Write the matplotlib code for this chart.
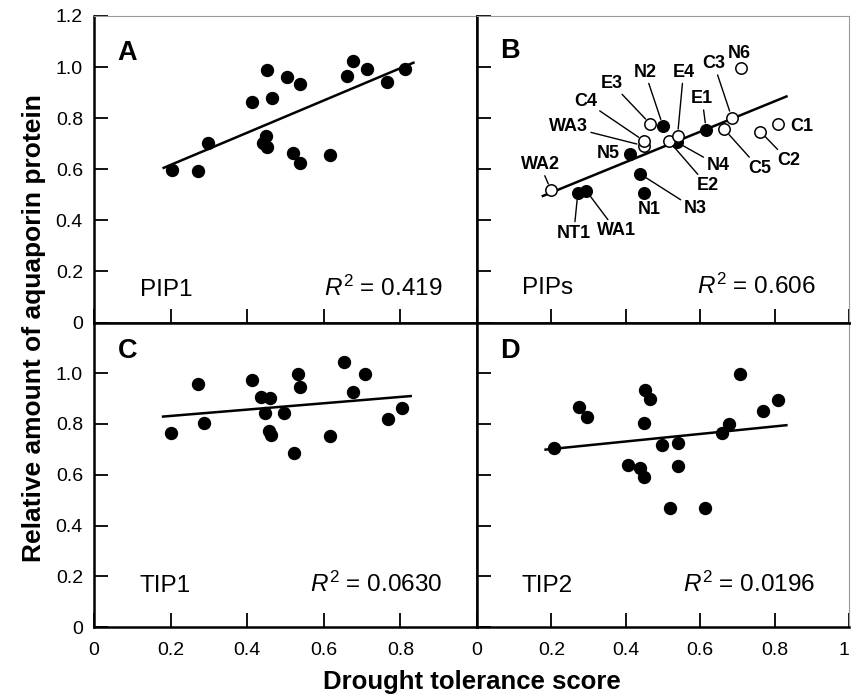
import numpy as np
import matplotlib
matplotlib.use("Agg")
import matplotlib.pyplot as plt

plt.rcParams['font.family'] = ['Liberation Sans', 'DejaVu Sans']
plt.rcParams['mathtext.fontset'] = 'custom'
plt.rcParams['mathtext.rm'] = 'Liberation Sans'
plt.rcParams['mathtext.it'] = 'Liberation Sans:italic'

# Panel A - PIP1
PIP1_X = [0.204, 0.272, 0.297, 0.413, 0.453, 0.466, 0.450, 0.440, 0.453, 0.505,
          0.539, 0.520, 0.539, 0.617, 0.660, 0.677, 0.712, 0.764, 0.812]
PIP1_Y = [0.597, 0.593, 0.704, 0.863, 0.988, 0.879, 0.730, 0.702, 0.689, 0.962,
          0.934, 0.665, 0.625, 0.657, 0.965, 1.022, 0.994, 0.941, 0.994]

# Panel B - PIPs (labelled accessions, open = True for open symbols)
PIPS_NAMES = ["N2", "E1", "N5", "N4", "N3", "N1", "NT1", "WA1",
              "WA2", "WA3", "C4", "E3", "E2", "E4", "C3", "C5", "C2", "C1", "N6"]
PIPS_X = [0.500, 0.616, 0.411, 0.537, 0.438, 0.450, 0.271, 0.294,
          0.199, 0.448, 0.450, 0.466, 0.515, 0.539, 0.685, 0.665, 0.762, 0.810, 0.709]
PIPS_Y = [0.769, 0.755, 0.661, 0.706, 0.582, 0.508, 0.507, 0.515,
          0.517, 0.692, 0.710, 0.777, 0.712, 0.730, 0.802, 0.756, 0.747, 0.779, 0.996]
PIPS_OPEN = [False, False, False, False, False, False, False, False,
             True, True, True, True, True, True, True, True, True, True, True]

# Panel C - TIP1
TIP1_X = [0.202, 0.272, 0.286, 0.412, 0.435, 0.460, 0.447, 0.497, 0.457, 0.461,
          0.521, 0.532, 0.537, 0.616, 0.653, 0.676, 0.708, 0.767, 0.805]
TIP1_Y = [0.765, 0.957, 0.802, 0.974, 0.905, 0.902, 0.842, 0.842, 0.772, 0.755,
          0.684, 0.999, 0.944, 0.752, 1.045, 0.927, 0.996, 0.820, 0.863]

# Panel D - TIP2
TIP2_X = [0.206, 0.274, 0.295, 0.406, 0.438, 0.450, 0.449, 0.452, 0.466, 0.498,
          0.539, 0.539, 0.519, 0.613, 0.658, 0.678, 0.707, 0.768, 0.810]
TIP2_Y = [0.705, 0.868, 0.829, 0.637, 0.627, 0.593, 0.802, 0.935, 0.900, 0.716,
          0.725, 0.633, 0.469, 0.469, 0.763, 0.800, 0.999, 0.850, 0.893]

R2_TEXT = {"A": "0.419", "B": "0.606", "C": "0.0630", "D": "0.0196"}
GENE_TEXT = {"A": "PIP1", "B": "PIPs", "C": "TIP1", "D": "TIP2"}

# label offsets (pixels, dx right / dy up) and whether a leader line is drawn
LABEL_OFFSETS = {
    "N6": (-1, 15, False), "C3": (-18, 54, True), "E4": (6, 64, True),
    "N2": (-18, 54, True), "E3": (-39, 41, True), "C4": (-59, 40, True),
    "WA3": (-75, 19, True), "E1": (-4, 31, True), "WA2": (-11, 26, True),
    "N5": (-22, 0, False), "NT1": (-4, -40, True), "WA1": (30, -40, True),
    "N1": (5, -17, False), "N3": (55, -35, True), "E2": (39, -45, True),
    "N4": (41, -23, True), "C5": (35, -39, True), "C2": (28, -29, True),
    "C1": (23, -3, False),
}

W, H = 851, 695
GRAY = "#9a9a9a"


def px_axes(fig, x0, x1, ytop, ybot):
    return fig.add_axes([x0 / W, 1 - ybot / H, (x1 - x0) / W, (ybot - ytop) / H])


def style_axes(ax, top_row, right_col, show_xlabels, yticks_labels):
    ax.set_xlim(0, 1)
    ax.set_ylim(0, 1.2)
    for s in ax.spines.values():
        s.set_linewidth(1.8)
        s.set_color("black")
    if top_row:
        ax.spines["top"].set_linewidth(0.8)
        ax.spines["top"].set_color(GRAY)
    if right_col:
        ax.spines["right"].set_linewidth(0.8)
        ax.spines["right"].set_color(GRAY)
    ax.tick_params(direction="in", length=10, width=1.3, labelsize=14, pad=8)
    ax.tick_params(axis="x", pad=11)
    ax.set_xticks([0, 0.2, 0.4, 0.6, 0.8, 1.0])
    if show_xlabels:
        labs = ["0", "0.2", "0.4", "0.6", "0.8", "1" if right_col else ""]
        ax.set_xticklabels(labs)
        if right_col:
            ax.get_xticklabels()[-1].set_horizontalalignment("right")
    else:
        ax.set_xticklabels([])
    ax.set_yticks([0, 0.2, 0.4, 0.6, 0.8, 1.0, 1.2])
    if yticks_labels is None:
        ax.set_yticklabels([])
    else:
        ax.set_yticklabels(yticks_labels)


def add_fit(ax, x, y):
    x = np.asarray(x)
    y = np.asarray(y)
    k, b = np.polyfit(x, y, 1)
    xs = np.array([x.min() - 0.025, x.max() + 0.025])
    ax.plot(xs, k * xs + b, color="black", lw=1.8, zorder=2, solid_capstyle="butt")


def add_texts(ax, key, letter_y, gene_y):
    ax.text(0.062, letter_y, key, transform=ax.transAxes, fontsize=19.5,
            fontweight="bold", ha="left", va="baseline")
    ax.text(0.12, gene_y, GENE_TEXT[key], transform=ax.transAxes, fontsize=17.5,
            ha="left", va="baseline")
    ax.text(0.91, gene_y, r"$R^{\mathrm{2}}$ = " + R2_TEXT[key], transform=ax.transAxes,
            fontsize=17.5, ha="right", va="baseline")


def generate_plot():
    fig = plt.figure(figsize=(W / 100, H / 100), dpi=100)

    axA = px_axes(fig, 94, 477, 16, 322.5)
    axB = px_axes(fig, 477, 849, 16, 322.5)
    axC = px_axes(fig, 94, 477, 322.5, 627)
    axD = px_axes(fig, 477, 849, 322.5, 627)

    style_axes(axA, True, False, False, ["0", "0.2", "0.4", "0.6", "0.8", "1.0", "1.2"])
    style_axes(axB, True, True, False, None)
    style_axes(axC, False, False, True, ["0", "0.2", "0.4", "0.6", "0.8", "1.0", ""])
    style_axes(axD, False, True, True, None)

    dot = dict(marker="o", ls="none", ms=8.6, color="black", zorder=3)

    # A
    add_fit(axA, PIP1_X, PIP1_Y)
    axA.plot(PIP1_X, PIP1_Y, **dot)
    add_texts(axA, "A", 0.857, 0.088)

    # B
    add_fit(axB, PIPS_X, PIPS_Y)
    for name, x, y, is_open in zip(PIPS_NAMES, PIPS_X, PIPS_Y, PIPS_OPEN):
        if is_open:
            axB.plot(x, y, marker="o", ms=8.2, mfc="white", mec="black", mew=1.1,
                     ls="none", zorder=4)
        else:
            axB.plot(x, y, marker="o", ms=8.4, color="black", ls="none", zorder=3)
        dx, dy, leader = LABEL_OFFSETS[name]
        kw = {}
        if leader:
            kw["arrowprops"] = dict(arrowstyle="-", lw=1.0, color="black",
                                    shrinkA=0, shrinkB=5)
        axB.annotate(name, xy=(x, y), xytext=(dx * 0.72, dy * 0.72),
                     textcoords="offset points", fontsize=13, fontweight="bold",
                     ha="center", va="center", zorder=5, **kw)
    add_texts(axB, "B", 0.863, 0.094)

    # C
    add_fit(axC, TIP1_X, TIP1_Y)
    axC.plot(TIP1_X, TIP1_Y, **dot)
    add_texts(axC, "C", 0.883, 0.115)

    # D
    add_fit(axD, TIP2_X, TIP2_Y)
    axD.plot(TIP2_X, TIP2_Y, **dot)
    add_texts(axD, "D", 0.883, 0.115)

    fig.text(34 / W, 1 - 328 / H, "Relative amount of aquaporin protein",
             rotation=90, ha="center", va="center", fontsize=19, fontweight="bold")
    fig.text(472 / W, 6 / H, "Drought tolerance score", ha="center",
             va="baseline", fontsize=18.5, fontweight="bold")

    fig.savefig("out.png", dpi=100)


if __name__ == "__main__":
    generate_plot()
